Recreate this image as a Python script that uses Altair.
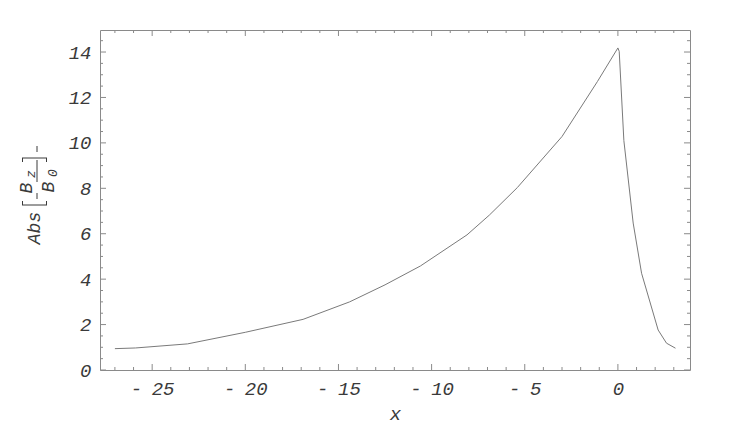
import altair as alt
import pandas as pd

# ---- data ----
curve_x = [-27.0, -25.9, -23.1, -20.0, -16.9, -14.4, -12.5, -10.6, -8.1, -6.9,
           -5.4, -3.0, -1.1, 0.0, 0.07, 0.32, 0.82, 1.27, 2.16, 2.61, 3.09]
curve_y = [0.94, 0.97, 1.15, 1.66, 2.23, 3.0, 3.75, 4.58, 5.95, 6.82,
           8.03, 10.28, 12.7, 14.18, 14.03, 10.1, 6.47, 4.26, 1.76, 1.18, 0.96]

x_major = [-25, -20, -15, -10, -5, 0]
x_minor = [v for v in range(-27, 4) if v % 5 != 0]
y_major = [0, 2, 4, 6, 8, 10, 12, 14]
y_minor = [i * 0.5 for i in range(1, 30) if i % 4 != 0]

X_DOMAIN = [-27.8, 3.87]
Y_DOMAIN = [0, 14.97]

W, H = 590, 340
FRAME = "#8a8a8a"
LINE = "#7a7a7a"
TXT = "#3a3a3a"
FONT = "Liberation Mono"

curve = pd.DataFrame({"x": curve_x, "y": curve_y})
xmaj = pd.DataFrame({"x": x_major})
xmin = pd.DataFrame({"x": x_minor})
ymaj = pd.DataFrame({"y": y_major})
ymin = pd.DataFrame({"y": y_minor})

xscale = alt.Scale(domain=X_DOMAIN, nice=False, zero=False)
yscale = alt.Scale(domain=Y_DOMAIN, nice=False, zero=False)

xaxis = alt.Axis(
    values=x_major, ticks=False, domain=False, grid=False,
    labelExpr="datum.value < 0 ? '-\u2002' + format(-datum.value, 'd') : format(datum.value, 'd')",
    labelFont=FONT, labelFontStyle="italic", labelFontSize=19, labelColor=TXT,
    labelPadding=9, labelFlush=False, labelOverlap=False,
    title="x", titleFont=FONT, titleFontStyle="italic", titleFontWeight="normal",
    titleFontSize=19, titleColor=TXT, titlePadding=6,
)
yaxis = alt.Axis(
    values=y_major, ticks=False, domain=False, grid=False,
    labelFont=FONT, labelFontStyle="italic", labelFontSize=19, labelColor=TXT,
    labelPadding=9, labelFlush=False, labelOverlap=False, title=None,
)

X = lambda: alt.X("x:Q", scale=xscale, axis=xaxis)
Y = lambda: alt.Y("y:Q", scale=yscale, axis=yaxis)

line = alt.Chart(curve).mark_line(color=LINE, strokeWidth=1, clip=True).encode(x=X(), y=Y())

def xticks(df, length):
    bottom = alt.Chart(df).mark_rule(color=FRAME, strokeWidth=1).encode(
        x=X(), y=alt.value(H), y2=alt.value(H - length))
    top = alt.Chart(df).mark_rule(color=FRAME, strokeWidth=1).encode(
        x=X(), y=alt.value(0), y2=alt.value(length))
    return [bottom, top]

def yticks(df, length):
    left = alt.Chart(df).mark_rule(color=FRAME, strokeWidth=1).encode(
        y=Y(), x=alt.value(0), x2=alt.value(length))
    right = alt.Chart(df).mark_rule(color=FRAME, strokeWidth=1).encode(
        y=Y(), x=alt.value(W), x2=alt.value(W - length))
    return [left, right]

tick_layers = xticks(xmaj, 6) + xticks(xmin, 3) + yticks(ymaj, 6) + yticks(ymin, 3)

# ---- rotated y title: Abs[Bz/B0] ----
one = pd.DataFrame({"k": [0]})
OX, OY = 100, 30  # page position of plot origin

def rtext(t, px, py, size):
    return alt.Chart(one).mark_text(
        text=t, angle=270, align="center", baseline="middle",
        font=FONT, fontStyle="italic", fontSize=size, color=TXT,
    ).encode(x=alt.value(px - OX), y=alt.value(py - OY))

def vrule(px, py1, py2):
    return alt.Chart(one).mark_rule(color=TXT, strokeWidth=1).encode(
        x=alt.value(px - OX), y=alt.value(py1 - OY), y2=alt.value(py2 - OY))

def hrule(py, px1, px2):
    return alt.Chart(one).mark_rule(color=TXT, strokeWidth=1).encode(
        y=alt.value(py - OY), x=alt.value(px1 - OX), x2=alt.value(px2 - OX))

title_layers = [
    rtext("Abs", 35, 228, 18),
    # lower bracket "["
    hrule(205, 22, 47), vrule(22.5, 201, 205), vrule(46.5, 201, 205),
    rtext("B", 27, 188, 18),
    rtext("z", 31, 174, 13),
    rtext("B", 49, 187, 18),
    rtext("0", 53, 173, 13),
    vrule(37, 160, 182),
    vrule(37, 193, 199),
    # upper bracket "]"
    hrule(158, 22, 47), vrule(22.5, 158, 162), vrule(46.5, 158, 162),
    vrule(37, 146, 152),
]

chart = alt.layer(line, *tick_layers, *title_layers).properties(
    width=W, height=H,
    autosize=alt.AutoSizeParams(type="none"),
    padding={"left": 92, "top": 22, "right": 40, "bottom": 60},
).configure_view(stroke=FRAME, strokeWidth=1)

chart.save("out.html", embed_options={"renderer": "svg", "actions": False})
